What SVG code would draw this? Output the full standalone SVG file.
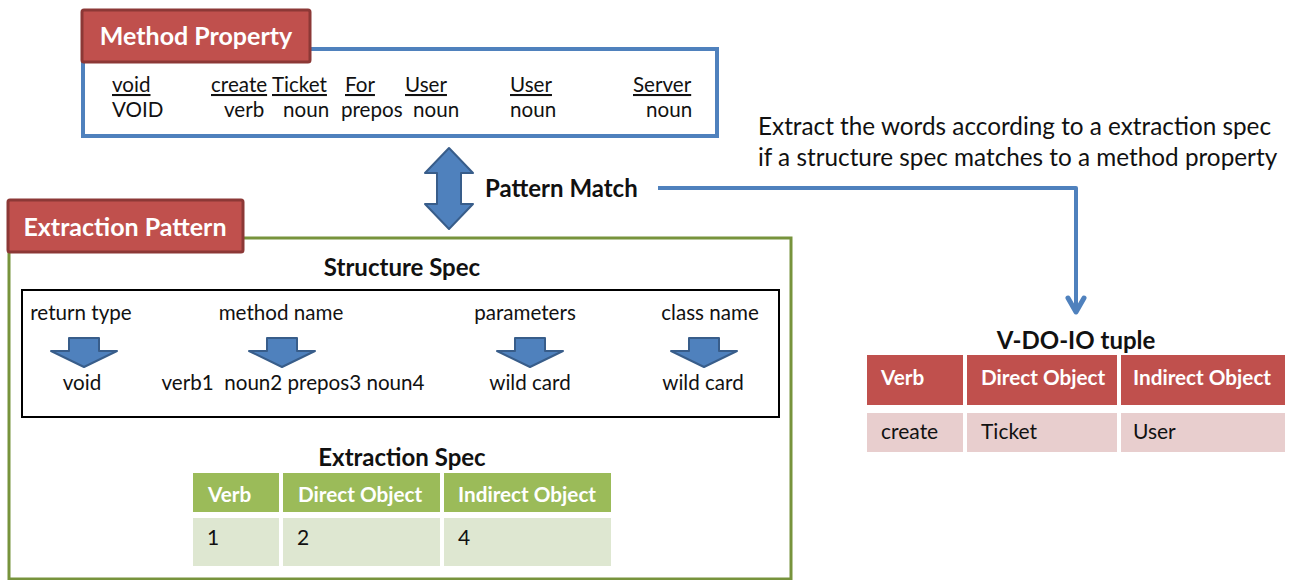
<svg xmlns="http://www.w3.org/2000/svg" width="1298" height="580" viewBox="0 0 1298 580">
<defs>
<style>
text{font-family:Lato,"Open Sans","Liberation Sans",sans-serif;fill:#111}
.lbl{fill:#C0504D;stroke:#8C3836;stroke-width:3}
.lt{fill:#fff;font-weight:bold;font-size:25px}
.t19{font-size:20.6px}
.u{text-decoration:underline}
.b{font-weight:bold;font-size:24px}
.ba{fill:#4F81BD;stroke:#385D8A;stroke-width:2;stroke-linejoin:round}
.gh{fill:#9BBB59}
.gb{fill:#DEE7D1}
.rh{fill:#C0504D}
.rb{fill:#E8CECE}
.th{fill:#fff;font-weight:bold;font-size:20.7px}
.td{font-size:21px}
</style>
</defs>
<g id="method-property">
<rect x="83" y="49" width="634" height="87" fill="#fff" stroke="#4F81BD" stroke-width="4"/>
<rect class="lbl" x="82" y="10" width="228" height="52" rx="2"/>
<text class="lt" x="196" y="45" text-anchor="middle">Method Property</text>
<g class="t19">
<text class="u" x="112" y="92">void</text>
<text class="u" x="211" y="92">create</text>
<text class="u" x="272" y="92">Ticket</text>
<text class="u" x="345" y="92">For</text>
<text class="u" x="405" y="92">User</text>
<text class="u" x="510" y="92">User</text>
<text class="u" x="633" y="92">Server</text>
<text x="112" y="117">VOID</text>
<text x="224" y="117">verb</text>
<text x="283" y="117">noun</text>
<text x="341" y="117">prepos</text>
<text x="413" y="117">noun</text>
<text x="510" y="117">noun</text>
<text x="646" y="117">noun</text>
</g>
</g>
<g id="pattern-match">
<polygon class="ba" points="449,148 473,173 461,173 461,204 473,204 449,229 425,204 437,204 437,173 425,173"/>
<text class="b" x="485" y="197">Pattern Match</text>
</g>
<g id="note">
<text x="758" y="135" font-size="24.3px">Extract the words according to a extraction spec</text>
<text x="758" y="166" font-size="24.3px">if a structure spec matches to a method property</text>
</g>
<g id="connectors">
<path d="M658,188 H1076 V312" fill="none" stroke="#4F81BD" stroke-width="4" stroke-linejoin="round"/>
<path d="M1068,298 L1076,312 L1084,298" fill="none" stroke="#4F81BD" stroke-width="5" stroke-linecap="round" stroke-linejoin="round"/>
</g>
<g id="extraction-pattern">
<rect x="9" y="238" width="782" height="341" fill="#fff" stroke="#77933C" stroke-width="3"/>
<rect class="lbl" x="8" y="200" width="235" height="52" rx="2"/>
<text class="lt" x="125" y="236" text-anchor="middle">Extraction Pattern</text>
<text class="b" x="402" y="276" text-anchor="middle">Structure Spec</text>
<rect x="22" y="290" width="757" height="127" fill="none" stroke="#000" stroke-width="2"/>
<g class="t19" text-anchor="middle">
<text x="81" y="320">return type</text>
<text x="281" y="320">method name</text>
<text x="525" y="320">parameters</text>
<text x="710" y="320">class name</text>
<text x="82" y="390">void</text>
<text x="293" y="390" xml:space="preserve">verb1  noun2 prepos3 noun4</text>
<text x="530" y="390">wild card</text>
<text x="703" y="390">wild card</text>
</g>
<polygon class="ba" points="69,338 99,338 99,351 117,351 84,367 51,351 69,351"/>
<polygon class="ba" points="267,338 297,338 297,351 315,351 282,367 249,351 267,351"/>
<polygon class="ba" points="515,338 545,338 545,351 563,351 530,367 497,351 515,351"/>
<polygon class="ba" points="689,338 719,338 719,351 737,351 704,367 671,351 689,351"/>
<text class="b" x="402" y="466" text-anchor="middle">Extraction Spec</text>
</g>
<g id="extraction-spec-table">
<rect class="gh" x="193" y="473" width="86" height="39"/>
<rect class="gh" x="283" y="473" width="157" height="39"/>
<rect class="gh" x="444" y="473" width="167" height="39"/>
<rect class="gb" x="193" y="518" width="86" height="48"/>
<rect class="gb" x="283" y="518" width="157" height="48"/>
<rect class="gb" x="444" y="518" width="167" height="48"/>
<text class="th" x="208" y="502">Verb</text>
<text class="th" x="298" y="502">Direct Object</text>
<text class="th" x="458" y="502">Indirect Object</text>
<text class="td" x="207" y="545">1</text>
<text class="td" x="297" y="545">2</text>
<text class="td" x="458" y="545">4</text>
</g>
<g id="vdoio-tuple">
<text class="b" x="1076" y="349" text-anchor="middle" font-size="23px">V-DO-IO tuple</text>
<rect class="rh" x="867" y="355" width="96" height="50"/>
<rect class="rh" x="967" y="355" width="150" height="50"/>
<rect class="rh" x="1121" y="355" width="164" height="50"/>
<rect class="rb" x="867" y="413" width="96" height="39"/>
<rect class="rb" x="967" y="413" width="150" height="39"/>
<rect class="rb" x="1121" y="413" width="164" height="39"/>
<text class="th" x="881" y="385">Verb</text>
<text class="th" x="981" y="385">Direct Object</text>
<text class="th" x="1133" y="385">Indirect Object</text>
<text class="td" x="881" y="439">create</text>
<text class="td" x="981" y="439">Ticket</text>
<text class="td" x="1133" y="439">User</text>
</g>
</svg>
